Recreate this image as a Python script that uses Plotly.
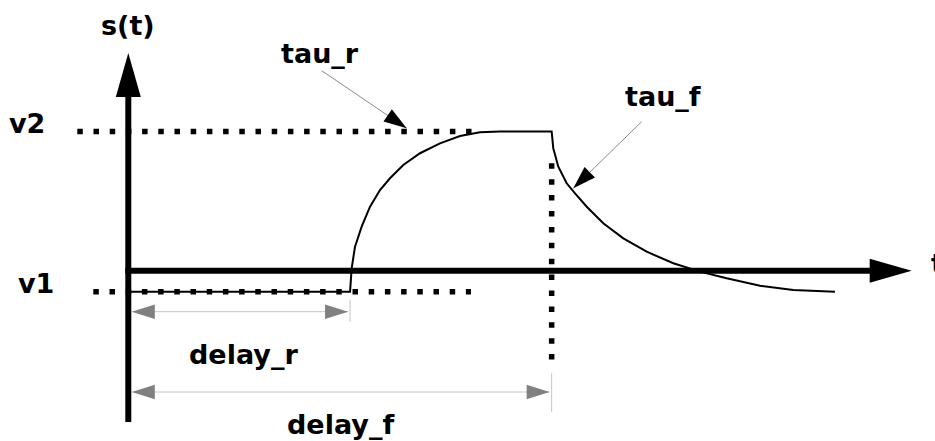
import math
import plotly.graph_objects as go

# signal levels and delays (data units: volts / time units)
level_names = ["v1", "v2"]
level_values = [-0.15, 1.0]
delay_names = ["delay_r", "delay_f"]
delay_values = [2.2, 4.2]
tau_names = ["tau_r", "tau_f"]

# s(t)
signal_t = [0.0, 2.2, 2.216, 2.249, 2.315, 2.398, 2.497, 2.596, 2.728, 2.894, 3.092,
            3.291, 3.489, 3.687, 4.2,
            4.216, 4.266, 4.349, 4.432, 4.548, 4.712, 4.911, 5.143, 5.407, 5.671,
            5.936, 6.267, 6.597, 7.011]
signal_s = [-0.15, -0.15, 0.018, 0.173, 0.317, 0.460, 0.580, 0.664, 0.760, 0.844, 0.915,
            0.968, 0.994, 1.0, 1.0,
            0.880, 0.747, 0.628, 0.556, 0.460, 0.341, 0.233, 0.137, 0.054, -0.006,
            -0.054, -0.107, -0.138, -0.150]

v1, v2 = level_values
delay_r, delay_f = delay_values

# page geometry: pixel position of the origin and pixels per unit
W, H = 935, 441
X0, Y0 = 128.3, 270.8
KX, KY = 100.8, 139.3


def tx(px):
    return (px - X0) / KX


def sy(py):
    return (Y0 - py) / KY


def px_of(t):
    return X0 + t * KX


def head(tip, frm, length, half, color):
    # filled triangle pointing from frm towards tip (pixel coords)
    dx, dy = tip[0] - frm[0], tip[1] - frm[1]
    d = math.hypot(dx, dy)
    ux, uy = dx / d, dy / d
    bx, by = tip[0] - ux * length, tip[1] - uy * length
    nx, ny = -uy * half, ux * half
    pts = [tip, (bx + nx, by + ny), (bx - nx, by - ny)]
    path = "M " + " L ".join(f"{tx(x):.4f},{sy(y):.4f}" for x, y in pts) + " Z"
    return dict(type="path", path=path, xref="x", yref="y", fillcolor=color,
                line=dict(width=0), layer="above")


def seg(p, q, color, width):
    return dict(type="line", xref="x", yref="y", x0=tx(p[0]), y0=sy(p[1]),
                x1=tx(q[0]), y1=sy(q[1]), line=dict(color=color, width=width),
                layer="above")


fig = go.Figure()

dots = dict(color="black", width=5.5, dash="5.5px,10.7px")
# v2 / v1 dotted levels
fig.add_trace(go.Scatter(x=[tx(77.3), tx(471.5)], y=[v2, v2], mode="lines", line=dots))
fig.add_trace(go.Scatter(x=[tx(93.3), tx(471)], y=[v1, v1], mode="lines", line=dots))
# vertical dotted at delay_f
fig.add_trace(go.Scatter(x=[delay_f, delay_f], y=[sy(163.3), sy(361)], mode="lines",
                         line=dict(color="black", width=5.5, dash="5.5px,10.4px")))
# the signal
fig.add_trace(go.Scatter(x=signal_t, y=signal_s, mode="lines",
                         line=dict(color="black", width=2)))

shapes = []
# axes
shapes.append(seg((X0, 422), (X0, 96), "black", 6))
shapes.append(seg((X0 - 3, Y0), (872, Y0), "black", 6))
shapes.append(head((X0, 53), (X0, 100), 44, 12.5, "black"))
shapes.append(head((911.7, Y0), (860, Y0), 42, 12, "black"))

# delay dimension arrows
grey_line, grey_head = "#c4c4c4", "#808080"
dim_rows = [311.7, 392.0]
tick_spans = [(300, 322), (373, 412)]
for d, yrow, (ya, yb) in zip(delay_values, dim_rows, tick_spans):
    xe = px_of(d)
    shapes.append(seg((X0 + 3, yrow), (xe - 2, yrow), grey_line, 1))
    shapes.append(head((X0 + 3.5, yrow), (xe, yrow), 23, 7.3, grey_head))
    shapes.append(head((xe - 2, yrow), (X0, yrow), 23, 7.3, grey_head))
    shapes.append(seg((xe, ya), (xe, yb), grey_line, 1))

# tau pointers
for start, tip in [((321.7, 70.7), (406.7, 128.3)), ((641.7, 121.7), (573.3, 188.3))]:
    shapes.append(seg(start, tip, "#8a8a8a", 1))
    shapes.append(head(tip, start, 23, 7.5, "black"))

font = dict(family="DejaVu Sans", size=27, color="black", weight="bold")
labels = [
    ("s(t)", 127.5, 25, "center"),
    (tau_names[0], 320, 53, "center"),
    (tau_names[1], 663, 96, "center"),
    (level_names[1], 27, 123, "center"),
    (level_names[0], 36, 283, "center"),
    (delay_names[0], 243, 354, "center"),
    (delay_names[1], 340, 424, "center"),
    ("t", 929, 263, "left"),
]
annotations = [dict(text=t, x=tx(x), y=sy(y), xref="x", yref="y", showarrow=False,
                    xanchor=a, yanchor="middle", font=font)
               for t, x, y, a in labels]

fig.update_layout(
    width=W, height=H,
    margin=dict(l=0, r=0, t=0, b=0),
    paper_bgcolor="white", plot_bgcolor="white",
    showlegend=False,
    xaxis=dict(range=[tx(0), tx(W)], visible=False, fixedrange=True),
    yaxis=dict(range=[sy(H), sy(0)], visible=False, fixedrange=True),
    shapes=shapes,
    annotations=annotations,
)

fig.write_html("out.html", config={"displayModeBar": False},
               post_script="document.body.style.margin='0';document.body.style.overflow='hidden';")
